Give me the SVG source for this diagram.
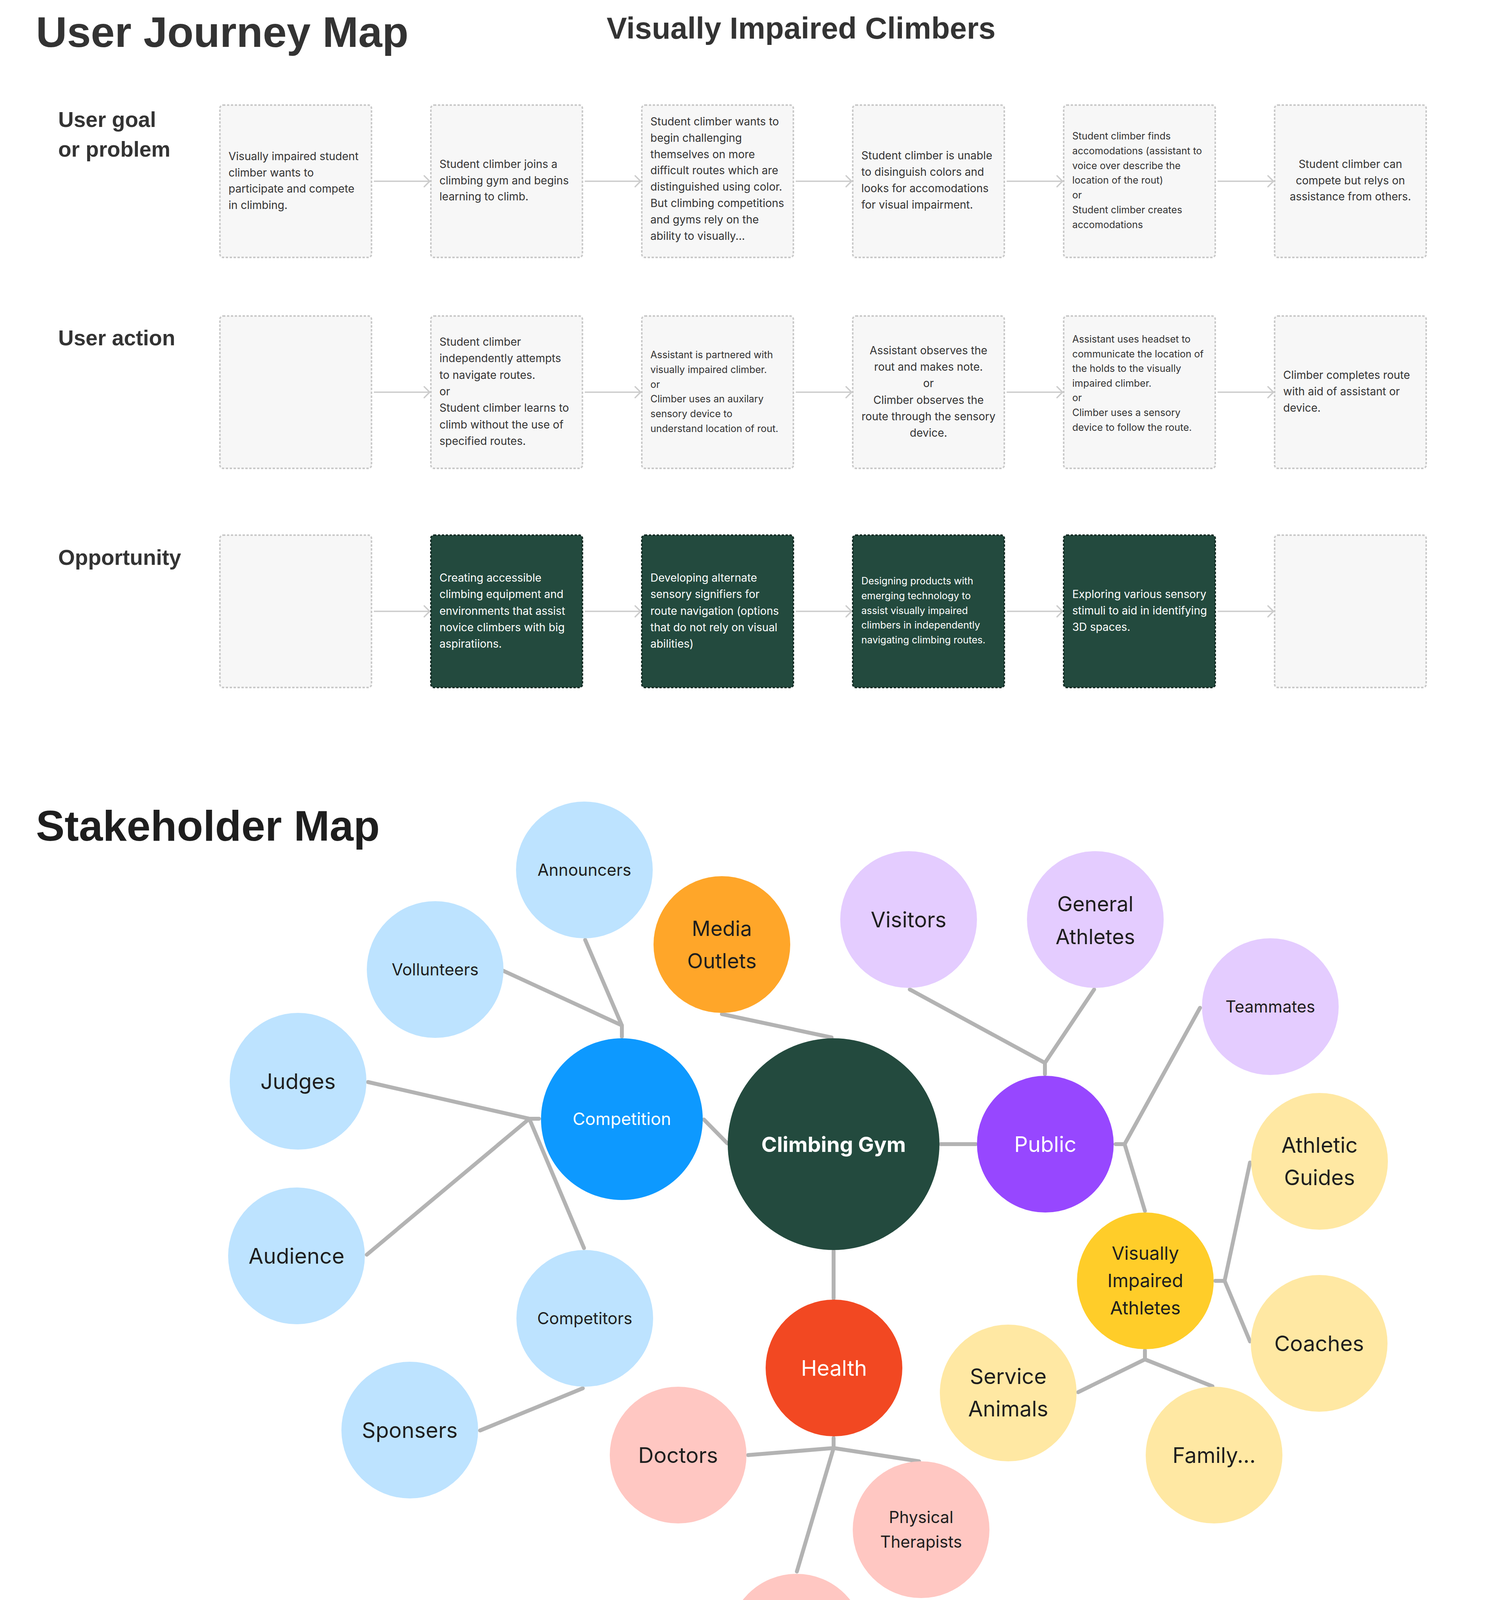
<svg xmlns="http://www.w3.org/2000/svg" width="3840" height="5814" viewBox="0 0 3840 5814">
<style>
.title{font-family:"Liberation Sans",Arial,sans-serif;font-weight:700;font-size:110px}
.rowlbl{font-family:"Liberation Sans",Arial,sans-serif;font-weight:700;font-size:55px;fill:#333}
.jb{fill:#f7f7f7;stroke:#c9c9c9;stroke-width:4;stroke-dasharray:6 4}
.jd{fill:#234a3e;stroke:#142c25;stroke-width:4;stroke-dasharray:6 4}
.jt{font-family:Inter,"Liberation Sans",sans-serif;font-size:28px;fill:#333}
.js{font-size:25px}
.jw{fill:#fff}
.mid{text-anchor:middle}
.arrow{stroke:#cccccc;stroke-width:3.5;fill:none;marker-end:url(#chev)}
.conn{stroke:#b3b3b3;stroke-width:10;fill:none;stroke-linecap:round;stroke-linejoin:round}
.lbl{font-family:Inter,"Liberation Sans",sans-serif;fill:#1e1e1e;text-anchor:middle}
.wl{fill:#fff}
.lb{fill:#bde3ff}
.lv{fill:#e4ccff}
.pk{fill:#ffc7c2}
.ly{fill:#ffe8a3}
.hdr{fill:#fff;stroke:#234a3e;stroke-width:6}
.ht{font-family:Inter,"Liberation Sans",sans-serif;font-weight:700;font-size:44px;fill:#1e1e1e;text-anchor:middle}
.sg{fill:#85e0a3;filter:url(#sh)}
.sy{fill:#e6e6e6;filter:url(#sh)}
.st{font-family:Inter,"Liberation Sans",sans-serif;font-size:30px;fill:#2b2b2b}
</style>
<defs>
<marker id="chev" markerUnits="userSpaceOnUse" markerWidth="24" markerHeight="34" refX="18" refY="17" orient="auto" overflow="visible">
<path d="M4,3 L18,17 L4,31" fill="none" stroke="#cccccc" stroke-width="3.5" stroke-linecap="round" stroke-linejoin="round"/>
</marker>
<filter id="sh" x="-10%" y="-10%" width="120%" height="125%">
<feDropShadow dx="0" dy="5" stdDeviation="5" flood-color="#000" flood-opacity="0.15"/>
</filter>
</defs>
<rect x="0" y="0" width="3840" height="5814" fill="#ffffff"/>

<!-- ===== USER JOURNEY MAP ===== -->
<text class="title" x="92" y="120" fill="#333">User Journey Map</text>
<text x="1553" y="99" font-family="'Liberation Sans',Arial,sans-serif" font-weight="700" font-size="78" fill="#333">Visually Impaired Climbers</text>

<text class="rowlbl" x="149" y="325">User goal</text>
<text class="rowlbl" x="149" y="401">or problem</text>
<text class="rowlbl" x="149" y="884">User action</text>
<text class="rowlbl" x="149" y="1446">Opportunity</text>

<g id="journey-connectors">
<line class="arrow" x1="957" y1="464" x2="1100" y2="464"/>
<line class="arrow" x1="1497" y1="464" x2="1640" y2="464"/>
<line class="arrow" x1="2037" y1="464" x2="2180" y2="464"/>
<line class="arrow" x1="2577" y1="464" x2="2720" y2="464"/>
<line class="arrow" x1="3117" y1="464" x2="3260" y2="464"/>
<line class="arrow" x1="957" y1="1004" x2="1100" y2="1004"/>
<line class="arrow" x1="1497" y1="1004" x2="1640" y2="1004"/>
<line class="arrow" x1="2037" y1="1004" x2="2180" y2="1004"/>
<line class="arrow" x1="2577" y1="1004" x2="2720" y2="1004"/>
<line class="arrow" x1="3117" y1="1004" x2="3260" y2="1004"/>
<line class="arrow" x1="957" y1="1565" x2="1100" y2="1565"/>
<line class="arrow" x1="1497" y1="1565" x2="1640" y2="1565"/>
<line class="arrow" x1="2037" y1="1565" x2="2180" y2="1565"/>
<line class="arrow" x1="2577" y1="1565" x2="2720" y2="1565"/>
<line class="arrow" x1="3117" y1="1565" x2="3260" y2="1565"/>
</g>

<!-- Row 1 -->
<g id="goal-1"><rect class="jb" x="563" y="269" width="388" height="390" rx="8"/>
<text class="jt" x="585" y="410"><tspan x="585">Visually impaired student</tspan><tspan x="585" dy="41.5">climber wants to</tspan><tspan x="585" dy="41.5">participate and compete</tspan><tspan x="585" dy="41.5">in climbing.</tspan></text></g>
<g id="goal-2"><rect class="jb" x="1103" y="269" width="388" height="390" rx="8"/>
<text class="jt" x="1125" y="430"><tspan x="1125">Student climber joins a</tspan><tspan x="1125" dy="41.5">climbing gym and begins</tspan><tspan x="1125" dy="41.5">learning to climb.</tspan></text></g>
<g id="goal-3"><rect class="jb" x="1643" y="269" width="388" height="390" rx="8"/>
<text class="jt" x="1665" y="321"><tspan x="1665">Student climber wants to</tspan><tspan x="1665" dy="41.8">begin challenging</tspan><tspan x="1665" dy="41.8">themselves on more</tspan><tspan x="1665" dy="41.8">difficult routes which are</tspan><tspan x="1665" dy="41.8">distinguished using color.</tspan><tspan x="1665" dy="41.8">But climbing competitions</tspan><tspan x="1665" dy="41.8">and gyms rely on the</tspan><tspan x="1665" dy="41.8">ability to visually...</tspan></text></g>
<g id="goal-4"><rect class="jb" x="2183" y="269" width="388" height="390" rx="8"/>
<text class="jt" x="2205" y="408"><tspan x="2205">Student climber is unable</tspan><tspan x="2205" dy="42">to disinguish colors and</tspan><tspan x="2205" dy="42">looks for accomodations</tspan><tspan x="2205" dy="42">for visual impairment.</tspan></text></g>
<g id="goal-5"><rect class="jb" x="2723" y="269" width="388" height="390" rx="8"/>
<text class="jt js" x="2745" y="357"><tspan x="2745">Student climber finds</tspan><tspan x="2745" dy="37.8">accomodations (assistant to</tspan><tspan x="2745" dy="37.8">voice over describe the</tspan><tspan x="2745" dy="37.8">location of the rout)</tspan><tspan x="2745" dy="37.8">or</tspan><tspan x="2745" dy="37.8">Student climber creates</tspan><tspan x="2745" dy="37.8">accomodations</tspan></text></g>
<g id="goal-6"><rect class="jb" x="3263" y="269" width="388" height="390" rx="8"/>
<text class="jt mid" x="3457" y="430"><tspan x="3457">Student climber can</tspan><tspan x="3457" dy="41.5">compete but relys on</tspan><tspan x="3457" dy="41.5">assistance from others.</tspan></text></g>

<!-- Row 2 -->
<g id="action-1"><rect class="jb" x="563" y="809" width="388" height="390" rx="8"/></g>
<g id="action-2"><rect class="jb" x="1103" y="809" width="388" height="390" rx="8"/>
<text class="jt" x="1125" y="885"><tspan x="1125">Student climber</tspan><tspan x="1125" dy="42.3">independently attempts</tspan><tspan x="1125" dy="42.3">to navigate routes.</tspan><tspan x="1125" dy="42.3">or</tspan><tspan x="1125" dy="42.3">Student climber learns to</tspan><tspan x="1125" dy="42.3">climb without the use of</tspan><tspan x="1125" dy="42.3">specified routes.</tspan></text></g>
<g id="action-3"><rect class="jb" x="1643" y="809" width="388" height="390" rx="8"/>
<text class="jt js" x="1665" y="917"><tspan x="1665">Assistant is partnered with</tspan><tspan x="1665" dy="37.8">visually impaired climber.</tspan><tspan x="1665" dy="37.8">or</tspan><tspan x="1665" dy="37.8">Climber uses an auxilary</tspan><tspan x="1665" dy="37.8">sensory device to</tspan><tspan x="1665" dy="37.8">understand location of rout.</tspan></text></g>
<g id="action-4"><rect class="jb" x="2183" y="809" width="388" height="390" rx="8"/>
<text class="jt mid" x="2377" y="907"><tspan x="2377">Assistant observes the</tspan><tspan x="2377" dy="42.2">rout and makes note.</tspan><tspan x="2377" dy="42.2">or</tspan><tspan x="2377" dy="42.2">Climber observes the</tspan><tspan x="2377" dy="42.2">route through the sensory</tspan><tspan x="2377" dy="42.2">device.</tspan></text></g>
<g id="action-5"><rect class="jb" x="2723" y="809" width="388" height="390" rx="8"/>
<text class="jt js" x="2745" y="877"><tspan x="2745">Assistant uses headset to</tspan><tspan x="2745" dy="37.6">communicate the location of</tspan><tspan x="2745" dy="37.6">the holds to the visually</tspan><tspan x="2745" dy="37.6">impaired climber.</tspan><tspan x="2745" dy="37.6">or</tspan><tspan x="2745" dy="37.6">Climber uses a sensory</tspan><tspan x="2745" dy="37.6">device to follow the route.</tspan></text></g>
<g id="action-6"><rect class="jb" x="3263" y="809" width="388" height="390" rx="8"/>
<text class="jt" x="3285" y="970"><tspan x="3285">Climber completes route</tspan><tspan x="3285" dy="42">with aid of assistant or</tspan><tspan x="3285" dy="42">device.</tspan></text></g>

<!-- Row 3 -->
<g id="opp-1"><rect class="jb" x="563" y="1370" width="388" height="390" rx="8"/></g>
<g id="opp-2"><rect class="jd" x="1103" y="1370" width="388" height="390" rx="8"/>
<text class="jt jw" x="1125" y="1489"><tspan x="1125">Creating accessible</tspan><tspan x="1125" dy="42.3">climbing equipment and</tspan><tspan x="1125" dy="42.3">environments that assist</tspan><tspan x="1125" dy="42.3">novice climbers with big</tspan><tspan x="1125" dy="42.3">aspiratiions.</tspan></text></g>
<g id="opp-3"><rect class="jd" x="1643" y="1370" width="388" height="390" rx="8"/>
<text class="jt jw" x="1665" y="1489"><tspan x="1665">Developing alternate</tspan><tspan x="1665" dy="42.3">sensory signifiers for</tspan><tspan x="1665" dy="42.3">route navigation (options</tspan><tspan x="1665" dy="42.3">that do not rely on visual</tspan><tspan x="1665" dy="42.3">abilities)</tspan></text></g>
<g id="opp-4"><rect class="jd" x="2183" y="1370" width="388" height="390" rx="8"/>
<text class="jt js jw" x="2205" y="1496"><tspan x="2205">Designing products with</tspan><tspan x="2205" dy="37.8">emerging technology to</tspan><tspan x="2205" dy="37.8">assist visually impaired</tspan><tspan x="2205" dy="37.8">climbers in independently</tspan><tspan x="2205" dy="37.8">navigating climbing routes.</tspan></text></g>
<g id="opp-5"><rect class="jd" x="2723" y="1370" width="388" height="390" rx="8"/>
<text class="jt jw" x="2745" y="1531"><tspan x="2745">Exploring various sensory</tspan><tspan x="2745" dy="42">stimuli to aid in identifying</tspan><tspan x="2745" dy="42">3D spaces.</tspan></text></g>
<g id="opp-6"><rect class="jb" x="3263" y="1370" width="388" height="390" rx="8"/></g>

<!-- ===== STAKEHOLDER MAP ===== -->
<text class="title" x="92" y="2152" fill="#1e1e1e">Stakeholder Map</text>

<g id="stakeholder-connectors">
<path class="conn" d="M1498,2406 L1592,2625 L1592,2654"/>
<path class="conn" d="M1288,2485 L1592,2625"/>
<path class="conn" d="M942,2770 L1355,2864 L1380,2864"/>
<path class="conn" d="M939,3212 L1355,2864"/>
<path class="conn" d="M1495,3195 L1355,2864"/>
<path class="conn" d="M1802,2866 L1862,2927"/>
<path class="conn" d="M1848,2596 L2129,2656"/>
<path class="conn" d="M2408,2929 L2498,2929"/>
<path class="conn" d="M2329,2533 L2675,2721 L2675,2750"/>
<path class="conn" d="M2801,2533 L2675,2721"/>
<path class="conn" d="M2856,2929 L2879,2929 L3072,2580"/>
<path class="conn" d="M2879,2929 L2931,3100"/>
<path class="conn" d="M3111,3279 L3135,3279 L3200,2976"/>
<path class="conn" d="M3135,3279 L3200,3434"/>
<path class="conn" d="M2931,3457 L2931,3480 L2760,3564"/>
<path class="conn" d="M2931,3480 L3104,3549"/>
<path class="conn" d="M2134,3202 L2134,3324"/>
<path class="conn" d="M2134,3681 L2134,3707 L1915,3725"/>
<path class="conn" d="M2134,3707 L2353,3741"/>
<path class="conn" d="M2134,3707 L2040,4023"/>
<path class="conn" d="M1492,3554 L1229,3662"/>
</g>

<g id="climbing-gym"><circle cx="2134" cy="2929" r="271" fill="#234a3e"/>
<text class="lbl wl" x="2134" y="2949" font-size="54" font-weight="700">Climbing Gym</text></g>
<g id="competition"><circle cx="1592" cy="2865" r="207" fill="#0d99ff"/>
<text class="lbl wl" x="1592" y="2880" font-size="44">Competition</text></g>
<g id="announcers"><circle class="lb" cx="1496" cy="2227" r="175"/>
<text class="lbl" x="1496" y="2242" font-size="42">Announcers</text></g>
<g id="vollunteers"><circle class="lb" cx="1114" cy="2482" r="175"/>
<text class="lbl" x="1114" y="2497" font-size="42">Vollunteers</text></g>
<g id="judges"><circle class="lb" cx="763" cy="2768" r="175"/>
<text class="lbl" x="763" y="2788" font-size="55">Judges</text></g>
<g id="audience"><circle class="lb" cx="759" cy="3215" r="175"/>
<text class="lbl" x="759" y="3235" font-size="55">Audience</text></g>
<g id="competitors"><circle class="lb" cx="1497" cy="3375" r="175"/>
<text class="lbl" x="1497" y="3390" font-size="42">Competitors</text></g>
<g id="sponsers"><circle class="lb" cx="1049" cy="3661" r="175"/>
<text class="lbl" x="1049" y="3681" font-size="55">Sponsers</text></g>
<g id="media-outlets"><circle cx="1848" cy="2418" r="175" fill="#ffa629"/>
<text class="lbl" x="1848" y="2396" font-size="53"><tspan x="1848">Media</tspan><tspan x="1848" dy="83">Outlets</tspan></text></g>
<g id="public"><circle cx="2676" cy="2929" r="175" fill="#9747ff"/>
<text class="lbl wl" x="2676" y="2949" font-size="55">Public</text></g>
<g id="visitors"><circle class="lv" cx="2326" cy="2354" r="175"/>
<text class="lbl" x="2326" y="2374" font-size="55">Visitors</text></g>
<g id="general-athletes"><circle class="lv" cx="2804" cy="2354" r="175"/>
<text class="lbl" x="2804" y="2333" font-size="53"><tspan x="2804">General</tspan><tspan x="2804" dy="84">Athletes</tspan></text></g>
<g id="teammates"><circle class="lv" cx="3252" cy="2577" r="175"/>
<text class="lbl" x="3252" y="2592" font-size="42">Teammates</text></g>
<g id="visually-impaired-athletes"><circle cx="2932" cy="3279" r="175" fill="#ffcd29"/>
<text class="lbl" x="2932" y="3225" font-size="47"><tspan x="2932">Visually</tspan><tspan x="2932" dy="70">Impaired</tspan><tspan x="2932" dy="70">Athletes</tspan></text></g>
<g id="athletic-guides"><circle class="ly" cx="3378" cy="2973" r="175"/>
<text class="lbl" x="3378" y="2951" font-size="55"><tspan x="3378">Athletic</tspan><tspan x="3378" dy="83">Guides</tspan></text></g>
<g id="coaches"><circle class="ly" cx="3377" cy="3439" r="175"/>
<text class="lbl" x="3377" y="3459" font-size="55">Coaches</text></g>
<g id="service-animals"><circle class="ly" cx="2581" cy="3566" r="175"/>
<text class="lbl" x="2581" y="3543" font-size="55"><tspan x="2581">Service</tspan><tspan x="2581" dy="83">Animals</tspan></text></g>
<g id="family"><circle class="ly" cx="3108" cy="3725" r="175"/>
<text class="lbl" x="3108" y="3745" font-size="55">Family...</text></g>
<g id="health"><circle cx="2135" cy="3502" r="175" fill="#f24822"/>
<text class="lbl wl" x="2135" y="3522" font-size="55">Health</text></g>
<g id="doctors"><circle class="pk" cx="1736" cy="3725" r="175"/>
<text class="lbl" x="1736" y="3745" font-size="55">Doctors</text></g>
<g id="physical-therapists"><circle class="pk" cx="2358" cy="3916" r="175"/>
<text class="lbl" x="2358" y="3899" font-size="42"><tspan x="2358">Physical</tspan><tspan x="2358" dy="63">Therapists</tspan></text></g>
<g id="engineers-tech"><circle class="pk" cx="2039" cy="4204" r="175"/>
<text class="lbl" x="2039" y="4187" font-size="42"><tspan x="2039">Engineers/</tspan><tspan x="2039" dy="62">Tech</tspan></text></g>

<!-- ===== SWOT ===== -->
<text class="title" x="45" y="4597" fill="#1e1e1e">SWOT Analysis</text>

<g id="swot-strengths"><rect class="hdr" x="39" y="4714" width="828" height="133" rx="8"/><text class="ht" x="453" y="4797">Strengths</text></g>
<g id="swot-weaknesses"><rect class="hdr" x="1014" y="4714" width="828" height="133" rx="8"/><text class="ht" x="1428" y="4797">Weaknesses</text></g>
<g id="swot-opportunities"><rect class="hdr" x="1989" y="4714" width="828" height="133" rx="8"/><text class="ht" x="2403" y="4797">Opportunities</text></g>
<g id="swot-threats"><rect class="hdr" x="2964" y="4714" width="828" height="133" rx="8"/><text class="ht" x="3378" y="4797">Threats</text></g>

<g id="note-s1"><rect class="sg" x="39" y="4934" width="366" height="365"/>
<text class="st" x="69" y="5000"><tspan x="69">Design oppertunity</tspan><tspan x="69" dy="46.4">due to gap in</tspan><tspan x="69" dy="46.4">technology in this</tspan><tspan x="69" dy="46.4">are.</tspan></text></g>
<g id="note-s2"><rect class="sg" x="502" y="4934" width="366" height="365"/>
<text class="st" x="532" y="5000"><tspan x="532">Ability&#160; to access/</tspan><tspan x="532" dy="46.4">interview target user</tspan><tspan x="532" dy="46.4">group.</tspan></text></g>
<g id="note-s3"><rect class="sg" x="39" y="5372" width="366" height="365"/>
<text class="st" x="69" y="5437"><tspan x="69">Emerging</tspan><tspan x="69" dy="46.4">technologies,</tspan><tspan x="69" dy="46.4">biometric and</tspan><tspan x="69" dy="46.4">wearables have not</tspan><tspan x="69" dy="46.4">yet been utilized in</tspan><tspan x="69" dy="46.4">this space.</tspan></text></g>

<g id="note-w1"><rect class="sy" x="1014" y="4934" width="366" height="365"/>
<text class="st" x="1044" y="5000"><tspan x="1044">High learning curve</tspan><tspan x="1044" dy="46.4">for new</tspan><tspan x="1044" dy="46.4">technologies.</tspan></text></g>
<g id="note-w2"><rect class="sy" x="1477" y="4934" width="366" height="365"/>
<text class="st" x="1507" y="5000"><tspan x="1507">Existing high tech</tspan><tspan x="1507" dy="46.4">solutions are</tspan><tspan x="1507" dy="46.4">extremely expensive</tspan><tspan x="1507" dy="46.4">and inaccessible.</tspan></text></g>
<g id="note-w3"><rect class="sy" x="1014" y="5372" width="366" height="365"/>
<text class="st" x="1044" y="5437"><tspan x="1044">Most accessible</tspan><tspan x="1044" dy="46.4">solutions are low</tspan><tspan x="1044" dy="46.4">fidelty (i.e. legos,</tspan><tspan x="1044" dy="46.4">auditory</tspan><tspan x="1044" dy="46.4">descriptions)</tspan></text></g>

<g id="note-o1"><rect class="sg" x="1989" y="4934" width="366" height="365"/>
<text class="st" x="2019" y="5000"><tspan x="2019">Current high tech</tspan><tspan x="2019" dy="46.4">solution is only</tspan><tspan x="2019" dy="46.4">available</tspan><tspan x="2019" dy="46.4">commercially in</tspan><tspan x="2019" dy="46.4">China.</tspan></text></g>
<g id="note-o2"><rect class="sg" x="2452" y="4934" width="366" height="365"/>
<text class="st" x="2482" y="5000"><tspan x="2482">The only available</tspan><tspan x="2482" dy="46.4">tech solutions are</tspan><tspan x="2482" dy="46.4">designed for adults</tspan><tspan x="2482" dy="46.4">rather than children.</tspan></text></g>
<g id="note-o3"><rect class="sg" x="1989" y="5372" width="366" height="385"/>
<text class="st" x="2019" y="5437"><tspan x="2019">Oppertunity to</tspan><tspan x="2019" dy="46.4">create a device that</tspan><tspan x="2019" dy="46.4">can be used for</tspan><tspan x="2019" dy="46.4">multiple forms of</tspan><tspan x="2019" dy="46.4">climbing (i.e. indoor,</tspan><tspan x="2019" dy="46.4">outdoor,</tspan><tspan x="2019" dy="46.4">competitive, etc.).</tspan></text></g>
<g id="note-o4"><rect class="sg" x="2452" y="5372" width="366" height="365"/>
<text class="st" x="2482" y="5437"><tspan x="2482">Current competitive</tspan><tspan x="2482" dy="46.4">climbing requires an</tspan><tspan x="2482" dy="46.4">assistant to provide</tspan><tspan x="2482" dy="46.4">auditory</tspan><tspan x="2482" dy="46.4">descriptions.</tspan></text></g>

<g id="note-t1"><rect class="sy" x="2964" y="4934" width="366" height="365"/>
<text class="st" x="2994" y="5000"><tspan x="2994">Creating an</tspan><tspan x="2994" dy="46.4">unobtrustive product</tspan><tspan x="2994" dy="46.4">that is function</tspan><tspan x="2994" dy="46.4">without inhibiting</tspan><tspan x="2994" dy="46.4">participation.</tspan></text></g>
<g id="note-t2"><rect class="sy" x="3427" y="4934" width="366" height="365"/>
<text class="st" x="3457" y="5000"><tspan x="3457">Emerging</tspan><tspan x="3457" dy="46.4">technologies are</tspan><tspan x="3457" dy="46.4">high cost and</tspan><tspan x="3457" dy="46.4">inaccessible.</tspan></text></g>
<g id="note-t3"><rect class="sy" x="2964" y="5372" width="366" height="365"/>
<text class="st" x="2994" y="5437"><tspan x="2994">Minimal</tspan><tspan x="2994" dy="46.4">development in this</tspan><tspan x="2994" dy="46.4">field.</tspan></text></g>
</svg>
